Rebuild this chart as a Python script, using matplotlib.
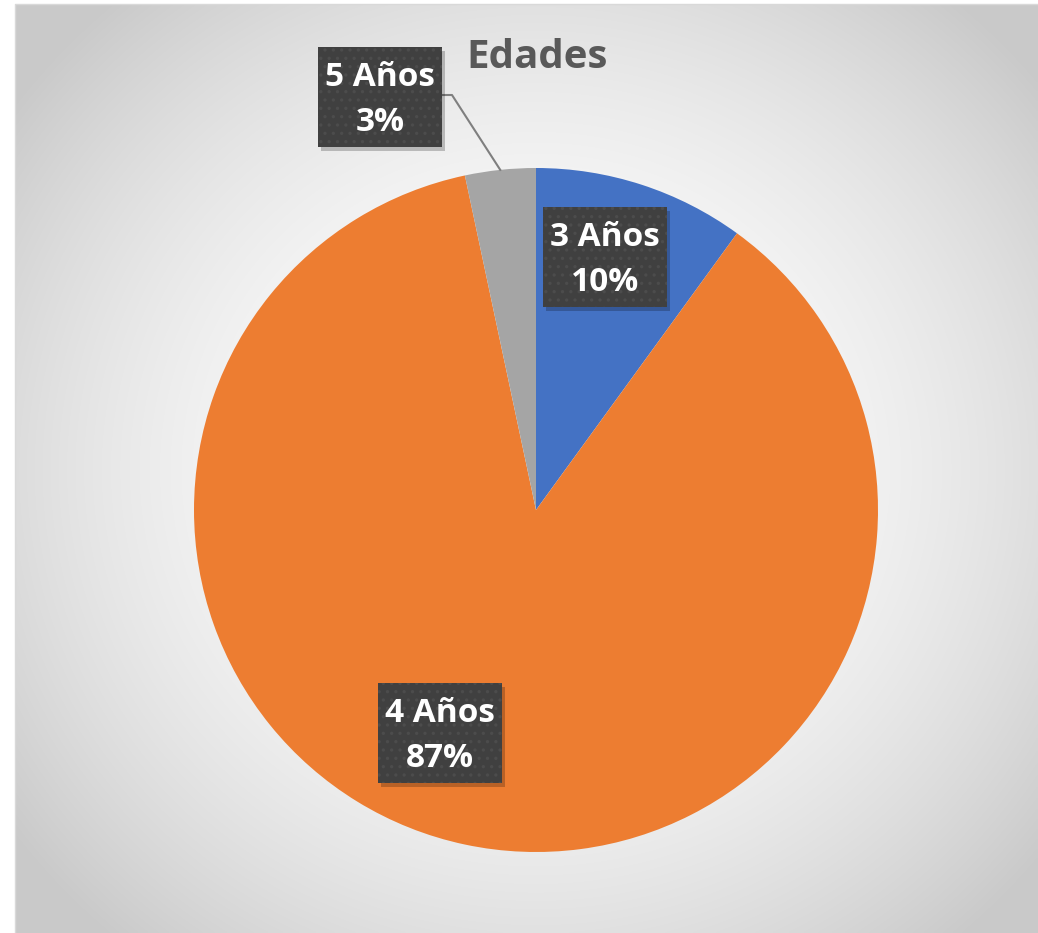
import numpy as np
import matplotlib
matplotlib.use("Agg")
import matplotlib.pyplot as plt
from matplotlib.patches import Rectangle

# --- data -------------------------------------------------------------
categories = ["3 Años", "4 Años", "5 Años"]
counts = [3, 26, 1]
colors = ["#4472C4", "#ED7D31", "#A5A5A5"]
title = "Edades"

W, H = 1038, 933
fig = plt.figure(figsize=(W / 100, H / 100), dpi=100)
fig.patch.set_facecolor("white")
ax = fig.add_axes([0, 0, 1, 1])
ax.set_xlim(0, W)
ax.set_ylim(0, H)
ax.set_aspect("equal")
ax.axis("off")

# chart area: radial gradient, white in the middle to grey at the corners
x0, x1, y0, y1 = 15, W, 0, H - 4
gx = np.linspace(x0, x1, 400)
gy = np.linspace(y0, y1, 400)
GX, GY = np.meshgrid(gx, gy)
cx, cy = 536, H - 470
d = np.sqrt(((GX - cx) / 650) ** 2 + ((GY - cy) / 620) ** 2)
d = np.clip(d, 0, 1)
shade = 1.0 - 0.21 * d ** 2.0
img = np.dstack([shade, shade, shade])
ax.imshow(img, extent=(x0, x1, y0, y1), origin="lower", zorder=0,
          interpolation="bilinear")
ax.plot([x0, x0, x1], [y0, y1, y1], color="#d9d9d9", lw=1, zorder=1)

# --- pie --------------------------------------------------------------
center = (536, H - 510)
R = 342
wedges, _ = ax.pie(counts, colors=colors, startangle=90, counterclock=False,
                   center=center, radius=R, frame=True,
                   wedgeprops=dict(linewidth=0))
ax.set_xlim(0, W)
ax.set_ylim(0, H)
ax.axis("off")

total = sum(counts)
pcts = [100 * c / total for c in counts]

# label box centres (pixels from top-left) and box size
label_pos = [(605, 257), (440, 733), (380, 97)]
box_w, box_h = 124, 100

plt.rcParams["hatch.linewidth"] = 1.2
for i, (cat, p) in enumerate(zip(categories, pcts)):
    px, py = label_pos[i]
    yy = H - py
    # drop shadow
    ax.add_patch(Rectangle((px - box_w / 2 + 3, yy - box_h / 2 - 4), box_w, box_h,
                           facecolor="black", alpha=0.22, lw=0, zorder=4))
    ax.add_patch(Rectangle((px - box_w / 2, yy - box_h / 2), box_w, box_h,
                           facecolor="#404040", lw=0, zorder=5))
    ax.add_patch(Rectangle((px - box_w / 2, yy - box_h / 2), box_w, box_h,
                           facecolor="none", edgecolor="#4c4c4c", hatch="..",
                           lw=0, zorder=5))
    ax.text(px, yy - 3, f"{cat}\n{p:.0f}%", ha="center", va="center",
            color="white", fontsize=24, fontweight="bold", family="Open Sans",
            linespacing=1.45, zorder=6)

# leader line for the small slice
w = wedges[2]
mid = np.deg2rad((w.theta1 + w.theta2) / 2)
ex = center[0] + R * np.cos(mid)
ey = center[1] + R * np.sin(mid)
lx, ly = label_pos[2]
ax.plot([lx + box_w / 2, lx + box_w / 2 + 10, ex],
        [H - 95, H - 95, ey], color="#7f7f7f", lw=1.5, zorder=3)

ax.text(537, H - 57, title, ha="center", va="center", fontsize=29,
        fontweight="bold", color="#595959", family="Open Sans", zorder=6)

fig.savefig("out.png", dpi=100)
